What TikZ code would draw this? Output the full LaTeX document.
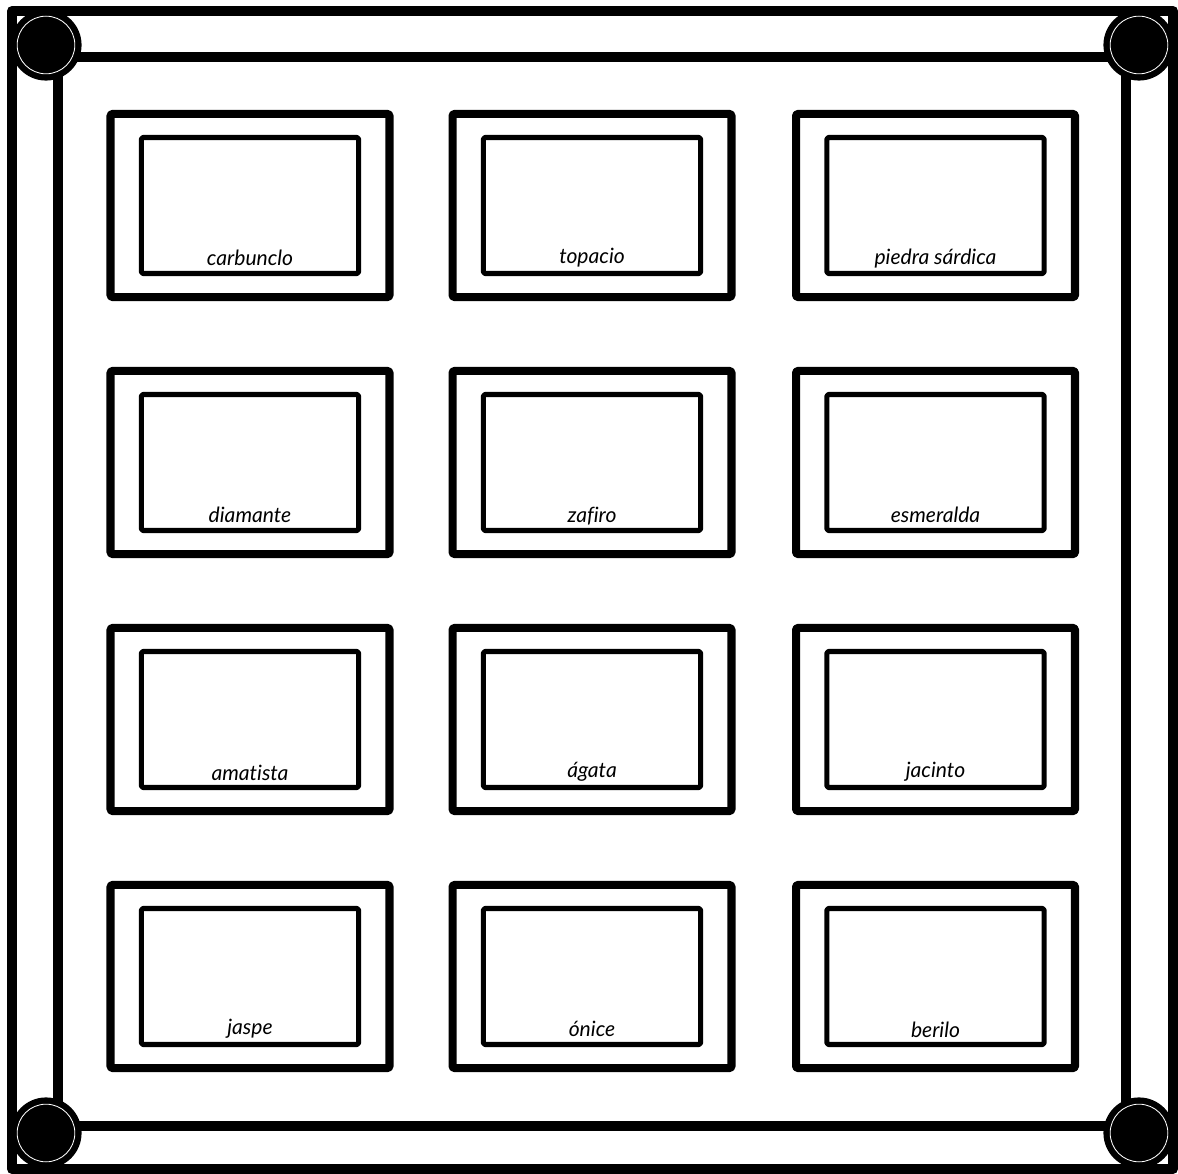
\documentclass[tikz,border=0pt]{standalone}
\usepackage{fontspec}
\setmainfont{Lato}[Ligatures=CommonOff]

\begin{document}
\begin{tikzpicture}[x=0.025cm,y=-0.025cm,line cap=round,line join=round,
  gem/.style={draw,line width=5.7pt,minimum width=198.4pt,minimum height=130.2pt,inner sep=0pt,outer sep=0pt,rounded corners=1pt},
  geminner/.style={draw,line width=3.6pt,minimum width=154.4pt,minimum height=96.7pt,inner sep=0pt,outer sep=0pt,rounded corners=1pt},
  gemname/.style={anchor=base,inner sep=0pt,font=\fontsize{15}{17}\selectfont\itshape}]
\useasboundingbox (0,0) rectangle (1178,1174);
\coordinate (o1) at (12,11);
\coordinate (o2) at (1173,1169);
\coordinate (i1) at (58,57);
\coordinate (i2) at (1126,1126);
\coordinate (ctl) at (46,45);
\coordinate (ctr) at (1139,45);
\coordinate (cbl) at (46,1133);
\coordinate (cbr) at (1139,1133);
% frame
\draw[line width=7.1pt] (o1) rectangle (o2);
\draw[line width=7.1pt] (i1) rectangle (i2);
\fill (ctl) circle (25.3pt);
\draw[white,line width=0.6pt] (ctl) circle (20.5pt);
\fill (ctr) circle (25.3pt);
\draw[white,line width=0.6pt] (ctr) circle (20.5pt);
\fill (cbl) circle (25.3pt);
\draw[white,line width=0.6pt] (cbl) circle (20.5pt);
\fill (cbr) circle (25.3pt);
\draw[white,line width=0.6pt] (cbr) circle (20.5pt);
% stones
\node[gem] (g11) at (250,205.5) {};
\node[geminner] (g11i) at (250,205.5) {};
\node[gemname] (n11) at ([yshift=5.7pt]g11i.south) {carbunclo};
\node[gem] (g12) at (592,205.5) {};
\node[geminner] (g12i) at (592,205.5) {};
\node[gemname] (n12) at ([yshift=7pt]g12i.south) {topacio};
\node[gem] (g13) at (935.5,205.5) {};
\node[geminner] (g13i) at (935.5,205.5) {};
\node[gemname] (n13) at ([yshift=6.4pt]g13i.south) {piedra sárdica};
\node[gem] (g21) at (250,462.5) {};
\node[geminner] (g21i) at (250,462.5) {};
\node[gemname] (n21) at ([yshift=5.7pt]g21i.south) {diamante};
\node[gem] (g22) at (592,462.5) {};
\node[geminner] (g22i) at (592,462.5) {};
\node[gemname] (n22) at ([yshift=5.7pt]g22i.south) {zafiro};
\node[gem] (g23) at (935.5,462.5) {};
\node[geminner] (g23i) at (935.5,462.5) {};
\node[gemname] (n23) at ([yshift=5.7pt]g23i.south) {esmeralda};
\node[gem] (g31) at (250,719.5) {};
\node[geminner] (g31i) at (250,719.5) {};
\node[gemname] (n31) at ([yshift=5pt]g31i.south) {amatista};
\node[gem] (g32) at (592,719.5) {};
\node[geminner] (g32i) at (592,719.5) {};
\node[gemname] (n32) at ([yshift=7pt]g32i.south) {ágata};
\node[gem] (g33) at (935.5,719.5) {};
\node[geminner] (g33i) at (935.5,719.5) {};
\node[gemname] (n33) at ([yshift=7pt]g33i.south) {jacinto};
\node[gem] (g41) at (250,976.5) {};
\node[geminner] (g41i) at (250,976.5) {};
\node[gemname] (n41) at ([yshift=7pt]g41i.south) {jaspe};
\node[gem] (g42) at (592,976.5) {};
\node[geminner] (g42i) at (592,976.5) {};
\node[gemname] (n42) at ([yshift=5.7pt]g42i.south) {ónice};
\node[gem] (g43) at (935.5,976.5) {};
\node[geminner] (g43i) at (935.5,976.5) {};
\node[gemname] (n43) at ([yshift=5pt]g43i.south) {berilo};
\end{tikzpicture}
\end{document}
